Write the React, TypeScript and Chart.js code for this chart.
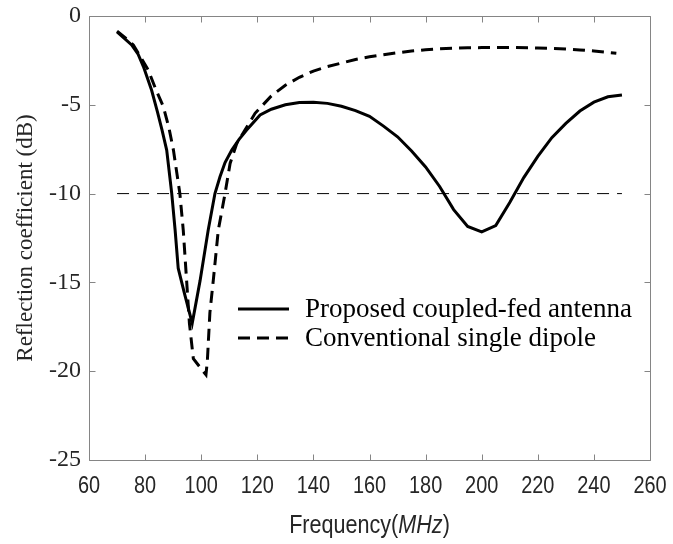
import React, { useEffect, useRef } from "react";
import { Chart, registerables } from "chart.js";

Chart.register(...registerables);

// ---------------- data ----------------
const proposedFreq = [
  70, 72.5, 75.2, 77.5, 79.4, 82.3, 84.4, 86, 87.7, 89.5, 90.7, 91.8, 94, 96.8,
  99.6, 102.5, 104.9, 106.7, 108.5, 110.9, 113.5, 116.2, 121, 125, 130, 135,
  140, 145, 150, 155, 160, 165, 170, 175, 180, 185, 190, 195, 200, 205, 210,
  215, 220, 225, 230, 235, 240, 245, 250,
];
const proposedDb = [
  -0.9, -1.25, -1.63, -2.15, -2.85, -4.17, -5.4, -6.4, -7.55, -10.0, -12.05,
  -14.2, -15.6, -17.3, -14.9, -12.05, -10.0, -9.05, -8.25, -7.55, -6.95, -6.42,
  -5.57, -5.25, -5.0, -4.87, -4.85, -4.92, -5.08, -5.33, -5.65, -6.2, -6.8,
  -7.6, -8.5, -9.6, -10.9, -11.85, -12.15, -11.8, -10.5, -9.1, -7.9, -6.85,
  -6.05, -5.35, -4.85, -4.55, -4.45,
];

const dipoleFreq = [
  70, 72, 75.8, 78, 81.1, 84, 86.5, 88.5, 90.1, 92.4, 93.6, 94.8, 95.8, 97.2,
  101.7, 102.2, 103.1, 104.3, 106.1, 108.5, 110.3, 112.7, 115.6, 119.2, 125,
  130, 135, 140, 145, 150, 155, 160, 165, 170, 175, 180, 185, 190, 195, 200,
  210, 220, 230, 235, 240, 245, 248,
];
const dipoleDb = [
  -0.85, -1.1, -1.63, -2.2, -3.04, -4.2, -5.1, -6.3, -7.55, -10.0, -12.05,
  -14.9, -17.3, -19.3, -20.2, -19.4, -16.7, -14.9, -12.05, -10.0, -8.3, -7.17,
  -6.42, -5.48, -4.5, -3.9, -3.45, -3.1, -2.85, -2.65, -2.45, -2.3, -2.18,
  -2.07, -1.97, -1.9, -1.85, -1.81, -1.79, -1.78, -1.77, -1.8, -1.86, -1.91,
  -1.97, -2.05, -2.1,
];

const thresholdFreq = [70, 250];
const thresholdDb = [-10, -10];

const seriesLabels = ["Proposed coupled-fed antenna", "Conventional single dipole"];
const xTitleParts = ["Frequency(", "MHz", ")"];
const yTitle = "Reflection coefficient (dB)";
const xRange = [60, 260];
const yRange = [-25, 0];
const xStep = 20;
const yStep = 5;

// ---------------- styles ----------------
const AXIS_COLOR = "#858585";
const TEXT_COLOR = "#262626";
const SERIF = "'Liberation Serif', 'Times New Roman', serif";
const SANS = "'Liberation Sans', Arial, sans-serif";
const CONDENSE = 0.83;

const toPoints = (xs: number[], ys: number[]) => xs.map((x, i) => ({ x, y: ys[i] }));

const framePlugin = {
  id: "frame",
  afterDatasetsDraw(chart: any) {
    const { ctx, chartArea, scales } = chart;
    const l = Math.round(chartArea.left) + 0.5;
    const r = Math.round(chartArea.right) + 0.5;
    const t = Math.round(chartArea.top) + 0.5;
    const b = Math.round(chartArea.bottom) + 0.5;
    ctx.save();
    ctx.strokeStyle = AXIS_COLOR;
    ctx.lineWidth = 1;
    ctx.setLineDash([]);
    ctx.beginPath();
    ctx.rect(l, t, r - l, b - t);
    const tl = 6;
    scales.x.ticks.forEach((tk: any) => {
      const px = Math.round(scales.x.getPixelForValue(tk.value)) + 0.5;
      ctx.moveTo(px, b);
      ctx.lineTo(px, b - tl);
      ctx.moveTo(px, t);
      ctx.lineTo(px, t + tl);
    });
    scales.y.ticks.forEach((tk: any) => {
      const py = Math.round(scales.y.getPixelForValue(tk.value)) + 0.5;
      ctx.moveTo(l, py);
      ctx.lineTo(l + tl, py);
      ctx.moveTo(r, py);
      ctx.lineTo(r - tl, py);
    });
    ctx.stroke();

    // condensed sans-serif x tick labels
    ctx.fillStyle = TEXT_COLOR;
    ctx.font = `24px ${SANS}`;
    ctx.textAlign = "center";
    ctx.textBaseline = "alphabetic";
    scales.x.ticks.forEach((tk: any) => {
      const px = scales.x.getPixelForValue(tk.value);
      ctx.save();
      ctx.translate(px, 493);
      ctx.scale(CONDENSE, 1);
      ctx.fillText(String(tk.label ?? tk.value), 0, 0);
      ctx.restore();
    });
    ctx.restore();
  },
};

const legendPlugin = {
  id: "customLegend",
  afterDraw(chart: any) {
    const { ctx } = chart;
    const x0 = 238;
    const x1 = 289;
    const tx = 305;
    const rows = [309, 338];
    ctx.save();
    ctx.font = `27px ${SERIF}`;
    ctx.fillStyle = "#000";
    ctx.textBaseline = "middle";
    ctx.textAlign = "left";
    chart.data.datasets.slice(0, 2).forEach((ds: any, i: number) => {
      const y = rows[i];
      ctx.strokeStyle = ds.borderColor;
      ctx.lineWidth = ds.borderWidth;
      ctx.setLineDash(ds.borderDash || []);
      ctx.beginPath();
      ctx.moveTo(x0, y);
      ctx.lineTo(x1, y);
      ctx.stroke();
      ctx.fillText(ds.label, tx, y + 1);
    });
    ctx.restore();
  },
};

const xTitlePlugin = {
  id: "xTitle",
  afterDraw(chart: any) {
    const { ctx, chartArea } = chart;
    const size = 26;
    const fonts = [`${size}px ${SANS}`, `italic ${size}px ${SANS}`, `${size}px ${SANS}`];
    ctx.save();
    const widths = xTitleParts.map((p, i) => {
      ctx.font = fonts[i];
      return ctx.measureText(p).width;
    });
    const total = widths.reduce((a, b) => a + b, 0);
    const cx = (chartArea.left + chartArea.right) / 2;
    ctx.translate(cx, 533);
    ctx.scale(CONDENSE, 1);
    let x = -total / 2;
    ctx.fillStyle = TEXT_COLOR;
    ctx.textBaseline = "alphabetic";
    ctx.textAlign = "left";
    xTitleParts.forEach((p, i) => {
      ctx.font = fonts[i];
      ctx.fillText(p, x, 0);
      x += widths[i];
    });
    ctx.restore();
  },
};

export default function App() {
  const canvasRef = useRef<HTMLCanvasElement | null>(null);

  useEffect(() => {
    if (!canvasRef.current) return;
    const chart = new Chart(canvasRef.current, {
      type: "line",
      data: {
        datasets: [
          {
            label: seriesLabels[0],
            data: toPoints(proposedFreq, proposedDb),
            borderColor: "#000000",
            borderWidth: 3,
            pointRadius: 0,
            tension: 0,
            fill: false,
          },
          {
            label: seriesLabels[1],
            data: toPoints(dipoleFreq, dipoleDb),
            borderColor: "#000000",
            borderWidth: 3,
            borderDash: [12, 7],
            pointRadius: 0,
            tension: 0,
            fill: false,
          },
          {
            label: "-10 dB",
            data: toPoints(thresholdFreq, thresholdDb),
            borderColor: "#000000",
            borderWidth: 1,
            borderDash: [12, 8],
            pointRadius: 0,
            tension: 0,
            fill: false,
          },
        ],
      },
      options: {
        animation: false,
        responsive: false,
        devicePixelRatio: 1,
        layout: { padding: { top: 16, right: 23, left: 0, bottom: 0 } },
        plugins: {
          legend: { display: false },
          tooltip: { enabled: false },
          title: { display: false },
        },
        scales: {
          x: {
            type: "linear",
            min: xRange[0],
            max: xRange[1],
            grid: { display: false, drawTicks: false },
            border: { display: false },
            ticks: {
              stepSize: xStep,
              autoSkip: false,
              maxRotation: 0,
              display: false,
            },
            afterFit: (s: any) => {
              s.height = 84;
            },
          },
          y: {
            type: "linear",
            min: yRange[0],
            max: yRange[1],
            grid: { display: false, drawTicks: false },
            border: { display: false },
            ticks: {
              stepSize: yStep,
              color: TEXT_COLOR,
              padding: 8,
              font: { family: SERIF, size: 24, lineHeight: 0.6 },
            },
            title: {
              display: true,
              text: yTitle,
              color: TEXT_COLOR,
              font: { family: SERIF, size: 23, weight: "normal" },
              padding: { top: 12, bottom: 0 },
            },
            afterFit: (s: any) => {
              s.width = 89;
            },
          },
        },
      },
      plugins: [framePlugin, legendPlugin, xTitlePlugin],
    });
    return () => chart.destroy();
  }, []);

  return (
    <div style={{ position: "fixed", left: 0, top: 0, width: 673, height: 544, background: "#fff" }}>
      <canvas ref={canvasRef} width={673} height={544} style={{ display: "block" }} />
    </div>
  );
}
